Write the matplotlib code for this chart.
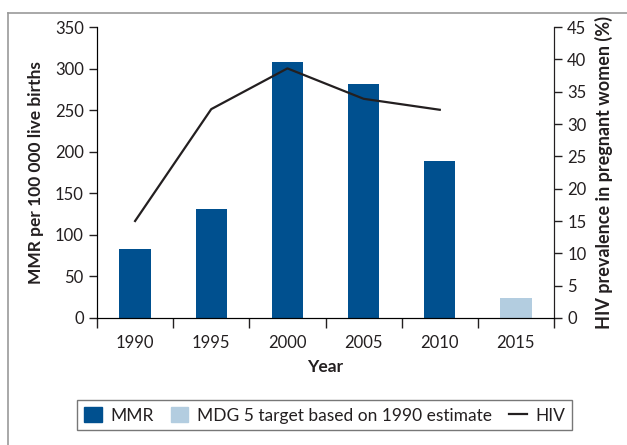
import matplotlib
matplotlib.use("Agg")
import matplotlib.pyplot as plt
from matplotlib.lines import Line2D
from matplotlib.patches import Patch
import numpy as np

# данные
years = ["1990", "1995", "2000", "2005", "2010", "2015"]
mmr = [83, 131, 308, 282, 189, 0]
mdg_target = [0, 0, 0, 0, 0, 24]
hiv = [15.0, 32.3, 38.6, 33.9, 32.2]

dark_blue = "#00508f"
light_blue = "#b3cde0"
ink = "#231f20"

plt.rcParams['font.family'] = ['Lato', 'DejaVu Sans']

fig = plt.figure(figsize=(6.27, 4.45), dpi=100)
ax = fig.add_axes([0.1547, 0.2854, 0.7289, 0.6539])

x = np.arange(len(years))
ax.bar(x, mmr, width=0.41, color=dark_blue)
ax.bar(x, mdg_target, width=0.41, color=light_blue)

ax.set_xlim(-0.5, len(years) - 0.5)
ax.set_ylim(0, 350)
ax.set_yticks(range(0, 351, 50))
ax.set_xticks(x)
ax.set_xticklabels(years)
ax.set_xticks(np.arange(-0.5, len(years)), minor=True)
ax.tick_params(axis='x', which='major', length=0, pad=12, labelsize=12, colors=ink)
ax.tick_params(axis='x', which='minor', length=7, width=1, direction='out', color=ink)
ax.tick_params(axis='y', length=6, width=1, labelsize=12, colors=ink)
ax.spines['top'].set_visible(False)
for s in ['left', 'right', 'bottom']:
    ax.spines[s].set_color(ink)
ax.set_xlabel('Year', fontsize=12.5, fontweight='bold', labelpad=6, color=ink)
ax.set_ylabel('MMR per 100 000 live births', fontsize=12.5, fontweight='bold',
              labelpad=8, color=ink)

ax2 = ax.twinx()
ax2.plot(x[:len(hiv)], hiv, color=ink, linewidth=1.6)
ax2.set_ylim(0, 45)
ax2.set_yticks(range(0, 46, 5))
ax2.tick_params(axis='y', length=6, width=1, labelsize=12, colors=ink)
ax2.spines['top'].set_visible(False)
ax2.spines['right'].set_color(ink)
ax2.set_ylabel('HIV prevalence in pregnant women (%)', fontsize=13, fontweight='bold',
               labelpad=6, color=ink)

# легенда
handles = [Patch(color=dark_blue), Patch(color=light_blue),
           Line2D([], [], color=ink, linewidth=1.6)]
labels = ['MMR', 'MDG 5 target based on 1990 estimate', 'HIV']
leg = fig.legend(handles, labels, loc='center', bbox_to_anchor=(0.518, 0.067), ncol=3,
                 fontsize=12.5, frameon=True, fancybox=False, edgecolor='#555555',
                 handlelength=1.0, handleheight=1.0, handletextpad=0.5, columnspacing=1.0,
                 borderpad=0.4, borderaxespad=0)
leg.get_frame().set_linewidth(1.0)
for t in leg.get_texts():
    t.set_color(ink)

# рамка вокруг рисунка
fig.add_artist(Line2D([8 / 627, 1], [1 - 13 / 445, 1 - 13 / 445], color='#999999', linewidth=1.2))
fig.add_artist(Line2D([8 / 627, 8 / 627], [0, 1 - 13 / 445], color='#999999', linewidth=1.2))

fig.savefig('out.png', dpi=100)
